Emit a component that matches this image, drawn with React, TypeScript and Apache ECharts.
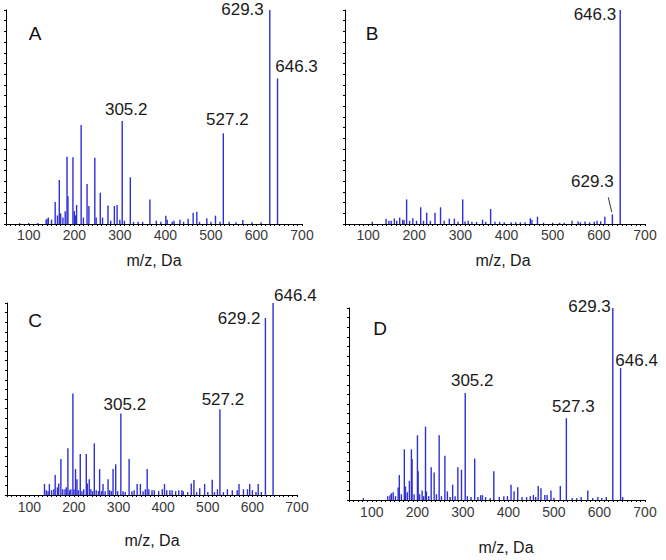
import React, { useEffect, useRef } from "react";
import * as echarts from "echarts";

// ---- Data: [m/z, relative intensity %] ----
const peaksA: number[][] = [
  [629.3, 100], [646.3, 68], [527.2, 42.4], [305.2, 48.1],
  [215, 46.3], [184, 31.4], [197, 31.2], [167, 20.6], [158, 10.3], [245, 31], [228, 18.7],
  [257, 14.6], [232, 8.4], [274, 8.7], [288, 8.4], [294, 8.9], [323, 21.8], [366, 11.5],
  [401, 3.9], [186, 13], [205, 8.9], [143, 3], [170, 5], [461, 5.3], [469, 5.7], [491, 2.7],
  [510, 3.9], [450, 2.5], [432, 2], [419, 1.5], [570, 1.9], [404, 2], [180, 6], [200, 6],
  [203, 4], [175, 3], [150, 2], [140, 2.5], [138, 2], [163, 4], [220, 3], [248, 3], [262, 3],
  [280, 1.5], [300, 2], [310, 1.5], [330, 1], [340, 1], [350, 1], [380, 1.5], [390, 1],
  [415, 1], [440, 1], [475, 1], [500, 1], [520, 1], [540, 1], [555, 0.8], [590, 0.8],
  [610, 0.8], [120, 0.5], [100, 0.5], [80, 0.4],
];
const peaksB: number[][] = [
  [646.3, 100], [629.3, 4.5], [183.5, 11.5], [214, 7.8], [227, 5.3], [245, 5.3], [257, 7.8],
  [305, 11.5], [365.5, 7], [467, 3.4], [451.5, 2.7], [613, 3.4], [139, 2.5], [157, 2.6],
  [168.5, 3], [197, 2.7], [276, 2.5], [287, 2.5], [348, 2], [317, 1.5], [542, 1.5], [596, 1.5],
  [555, 1.2], [570, 1.2], [109, 1], [145, 1.5], [150, 1.5], [162, 1.5], [175, 2], [178, 1.8],
  [190, 1.5], [205, 1.5], [220, 1.5], [235, 1.5], [265, 1.5], [295, 1], [310, 1.2], [325, 1],
  [335, 1], [355, 1], [375, 1], [385, 1], [395, 0.8], [410, 0.8], [420, 0.8], [430, 0.8],
  [440, 0.8], [455, 2], [480, 0.6], [500, 0.6], [515, 0.6], [525, 0.6], [560, 0.8], [580, 0.8],
  [590, 1], [604, 1.2],
];
const peaksC: number[][] = [
  [646.4, 100], [629.2, 92.2], [527.2, 44.7], [305.2, 42.5], [197.7, 52.9], [245.7, 26.9],
  [186.5, 24.3], [214.2, 21.3], [227.7, 21.3], [170.8, 18.7], [323.7, 18.7], [293.6, 16],
  [287.7, 13.5], [257.6, 13.5], [364.2, 13.5], [158, 10.4], [203.6, 13.5], [206.8, 8.2],
  [234.4, 8.2], [276.5, 8.2], [265.2, 5.7], [134, 5.7], [145, 5.7], [469, 7.8], [463, 6],
  [510, 8], [493, 5.7], [482, 3.5], [570, 5.7], [594, 5.7], [613, 5.7], [403, 5.7],
  [341.7, 5.7], [349, 5.7], [521.7, 3], [544, 3], [555, 2.5], [566, 2.5], [580, 3], [589, 3],
  [600, 2.5], [138, 2.5], [142, 2], [150, 2.5], [155, 3], [163, 4], [166, 6], [175, 3],
  [180, 3], [183, 4], [190, 2.5], [193, 3], [200, 3], [210, 2.5], [218, 2], [222, 3], [230, 6],
  [238, 3], [242, 2], [250, 2.5], [255, 2], [262, 2], [270, 2], [280, 2.5], [284, 2], [298, 2],
  [310, 2], [315, 1.5], [330, 2], [335, 2.5], [355, 2], [360, 3], [368, 3], [375, 2.5],
  [380, 2.5], [390, 2], [398, 3], [408, 2.5], [415, 2.5], [420, 2.5], [428, 2], [435, 2.5],
  [442, 2.5], [445, 2], [455, 1.5], [475, 1.5], [500, 1.5], [515, 1.5], [535, 1.5],
  [608, 1.5], [620, 1.5],
];
const peaksD: number[][] = [
  [629.3, 100], [646.4, 68.7], [527.3, 42.6], [305.2, 55.7], [218, 38.2], [200.3, 33.7],
  [248, 33.7], [171.5, 26.4], [187, 26.4], [188.5, 21.2], [260.6, 23], [326, 21.6], [289, 17],
  [297, 15.7], [230.5, 17], [237, 14.3], [368, 15], [160.5, 13], [201.8, 15], [182.6, 10],
  [174, 7], [210.6, 5], [277.6, 8], [266, 4.5], [220, 4.5], [143, 3.5], [147, 4], [158, 6.5],
  [339, 2.5], [343, 2.5], [390, 2], [405.8, 8], [412.5, 4.5], [420.5, 6.6], [465.5, 7.3],
  [471.5, 6.1], [514, 7.3], [493.5, 4.9], [574.4, 4.9], [480, 2.6], [485, 2.6], [455, 2.6],
  [559.8, 1.5], [596.5, 1.5], [615, 1.5], [651, 1.5], [81.6, 1], [135, 2], [140, 2.5],
  [152, 2], [165, 3], [178, 4], [193, 3], [205, 3], [214, 2], [225, 2], [242, 3], [253, 2],
  [272, 1.5], [283, 2], [310, 2], [318, 1.5], [333, 1.5], [350, 1.5], [360, 1], [380, 1.5],
  [398, 2], [430, 1.5], [440, 1.5], [448, 2], [460, 1.5], [500, 1.2], [540, 1], [550, 1],
  [585, 1], [605, 1],
];

// annotated peaks: [m/z, label]
const labelsA: (number | string)[][] = [[629.3, "629.3"], [646.3, "646.3"], [305.2, "305.2"], [527.2, "527.2"]];
const labelsB: (number | string)[][] = [[646.3, "646.3"], [629.3, "629.3"]];
const labelsC: (number | string)[][] = [[646.4, "646.4"], [629.2, "629.2"], [527.2, "527.2"], [305.2, "305.2"]];
const labelsD: (number | string)[][] = [[629.3, "629.3"], [646.4, "646.4"], [527.3, "527.3"], [305.2, "305.2"]];

const panelNames = ["A", "B", "C", "D"];
const xTickLabels = [100, 200, 300, 400, 500, 600, 700];
const xAxisTitle = "m/z, Da";

// label style per panel & label (position offsets only)
const labelStyles: Record<string, any>[] = [
  {
    "629.3": { align: "right", offset: [-6, -1] },
    "646.3": { align: "center", offset: [19, -12] },
    "305.2": { align: "center", offset: [4, -12] },
    "527.2": { align: "center", offset: [4, -14] },
  },
  {
    "646.3": { align: "right", offset: [-4, 4] },
    "629.3": { align: "center", offset: [-20, -33] },
  },
  {
    "646.4": { align: "left", offset: [1, -8] },
    "629.2": { align: "right", offset: [-5, 1] },
    "527.2": { align: "center", offset: [3, -10] },
    "305.2": { align: "center", offset: [4, -9] },
  },
  {
    "629.3": { align: "right", offset: [-2, -2] },
    "646.4": { align: "center", offset: [16, -8] },
    "527.3": { align: "center", offset: [7, -12] },
    "305.2": { align: "center", offset: [7, -13] },
  },
];

const FONT = "'Liberation Sans', Arial, sans-serif";
const BAR_COLOR = "#2f2fd8";

export default function App() {
  const ref = useRef<HTMLDivElement>(null);

  useEffect(() => {
    if (!ref.current) return;
    const chart = echarts.init(ref.current, undefined, { renderer: "svg" });

    const grids = [
      { left: 6, top: 10, width: 296, height: 214 },
      { left: 345, top: 10, width: 300, height: 214 },
      { left: 7, top: 303, width: 290, height: 192 },
      { left: 349, top: 308, width: 296, height: 192 },
    ];
    const nameGaps = [28, 28, 37, 39];
    const namePads = [[0, 0, 0, 0], [0, 0, 0, 16], [0, 0, 0, 0], [0, 0, 0, 18]];
    const labelMargins = [4, 4, 5, 5];
    const minorTicks: number[] = [];
    for (let v = 50; v <= 700; v += 10) minorTicks.push(v);

    const allPeaks = [peaksA, peaksB, peaksC, peaksD];
    const allLabels = [labelsA, labelsB, labelsC, labelsD];

    const xAxes = grids.map((_, i) => ({
      type: "value",
      gridIndex: i,
      min: 50,
      max: 700,
      name: xAxisTitle,
      nameLocation: "middle",
      nameGap: nameGaps[i],
      nameTextStyle: { fontFamily: FONT, fontSize: 16, color: "#1a1a1a", padding: namePads[i] },
      axisLine: { show: true, onZero: false, lineStyle: { color: "#000", width: 1 } },
      axisTick: { show: true, length: 2, customValues: minorTicks, lineStyle: { color: "#000" } },
      axisLabel: {
        show: true,
        customValues: xTickLabels,
        margin: labelMargins[i],
        fontFamily: FONT,
        fontSize: 14,
        color: "#3a3a3a",
      },
      splitLine: { show: false },
    }));

    const yAxes = grids.map((_, i) => ({
      type: "value",
      gridIndex: i,
      min: 0,
      max: 100,
      interval: 5,
      axisLine: { show: true, lineStyle: { color: "#000", width: 1 } },
      axisTick: { show: true, length: 2, lineStyle: { color: "#000" } },
      axisLabel: { show: false },
      splitLine: { show: false },
    }));

    const series = allPeaks.map((peaks, i) => {
      const labelMap = new Map<number, string>();
      allLabels[i].forEach((l) => labelMap.set(l[0] as number, l[1] as string));
      const data = peaks.map((p) => {
        const txt = labelMap.get(p[0]);
        if (txt) {
          const st = labelStyles[i][txt] || {};
          return {
            value: p,
            label: {
              show: true,
              formatter: txt,
              position: "top",
              distance: 0,
              verticalAlign: "middle",
              align: st.align,
              offset: st.offset,
              fontFamily: FONT,
              fontSize: 17,
              color: "#1a1a1a",
            },
          };
        }
        return { value: p };
      });
      return {
        type: "bar",
        xAxisIndex: i,
        yAxisIndex: i,
        barWidth: 1.4,
        itemStyle: { color: BAR_COLOR },
        data,
        silent: true,
      };
    });

    const letterPos = [
      [35, 33],
      [372, 33],
      [35, 320],
      [380, 328],
    ];

    const graphic: any[] = panelNames.map((n, i) => ({
      type: "text",
      x: letterPos[i][0],
      y: letterPos[i][1],
      style: {
        text: n,
        fontFamily: FONT,
        fontSize: 19,
        fill: "#111",
        align: "center",
        verticalAlign: "middle",
      },
    }));
    graphic.push({
      type: "line",
      shape: { x1: 608.3, y1: 197.3, x2: 611.7, y2: 212 },
      style: { stroke: "#333", lineWidth: 1 },
    });

    chart.setOption({
      animation: false,
      backgroundColor: "#fff",
      grid: grids.map((g) => ({ ...g, containLabel: false })),
      xAxis: xAxes,
      yAxis: yAxes,
      series,
      graphic,
    } as any);

    return () => chart.dispose();
  }, []);

  return (
    <div
      ref={ref}
      style={{ position: "fixed", left: 0, top: 0, width: 666, height: 560, background: "#fff" }}
    />
  );
}
